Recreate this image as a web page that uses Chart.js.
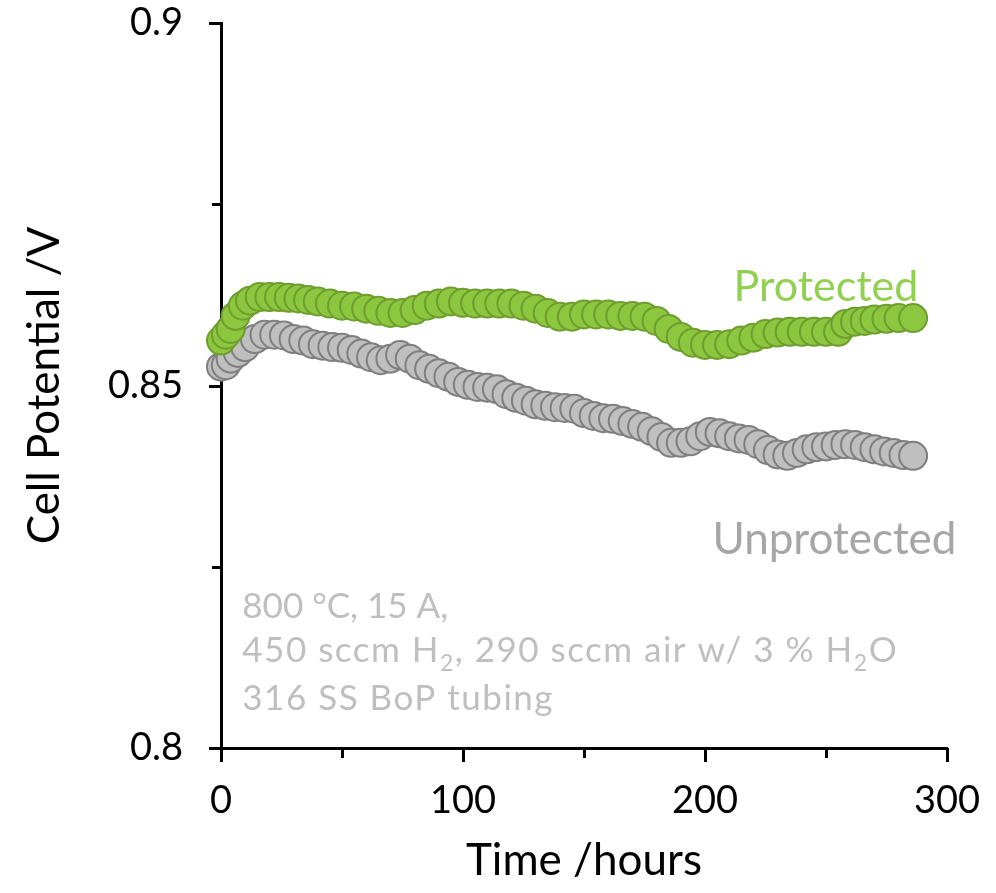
<!DOCTYPE html>
<html>
<head>
<meta charset="utf-8">
<script src="https://cdn.jsdelivr.net/npm/chart.js@4.4.1/dist/chart.umd.min.js"></script>
<style>
  html, body { margin: 0; padding: 0; background: #fff; }
  #wrap { width: 996px; height: 893px; }
</style>
</head>
<body>
<div id="wrap"><canvas id="grafica"></canvas></div>
<script>
// data
const protectedHours = [0, 2, 4, 6, 9, 12, 16, 20, 24, 28, 32, 36, 40, 45, 50, 55, 60, 65, 70, 75, 80, 85, 90, 95, 100, 105, 110, 115, 120, 125, 130, 135, 140, 145, 150, 155, 160, 165, 170, 175, 180, 185, 190, 195, 200, 205, 210, 215, 220, 225, 230, 235, 240, 245, 250, 255, 258, 262, 266, 270, 275, 280, 286];
const protectedVolts = [0.8562, 0.8570, 0.8578, 0.8596, 0.8610, 0.8617, 0.8622, 0.8622, 0.8622, 0.8621, 0.8620, 0.8618, 0.8616, 0.8613, 0.8610, 0.8609, 0.8606, 0.8603, 0.8600, 0.8600, 0.8604, 0.8610, 0.8613, 0.8616, 0.8614, 0.8613, 0.8613, 0.8613, 0.8613, 0.8610, 0.8606, 0.8600, 0.8595, 0.8595, 0.8598, 0.8598, 0.8598, 0.8596, 0.8596, 0.8595, 0.8589, 0.8578, 0.8567, 0.8559, 0.8556, 0.8556, 0.8557, 0.8562, 0.8566, 0.8571, 0.8573, 0.8574, 0.8574, 0.8574, 0.8574, 0.8574, 0.8585, 0.8588, 0.8589, 0.8591, 0.8592, 0.8593, 0.8593];

const unprotectedHours = [0, 2, 4, 7, 10, 14, 18, 22, 26, 30, 34, 38, 42, 46, 50, 54, 58, 62, 66, 70, 74, 78, 82, 86, 90, 94, 98, 102, 106, 110, 114, 118, 122, 126, 130, 134, 138, 142, 146, 150, 154, 158, 162, 166, 170, 174, 178, 182, 186, 190, 194, 198, 202, 206, 210, 214, 218, 222, 226, 230, 234, 238, 242, 246, 250, 254, 258, 262, 266, 270, 274, 278, 282, 286];
const unprotectedVolts = [0.8526, 0.8528, 0.8537, 0.8545, 0.8553, 0.8564, 0.8570, 0.8570, 0.8569, 0.8564, 0.8562, 0.8557, 0.8555, 0.8553, 0.8552, 0.8549, 0.8544, 0.8539, 0.8535, 0.8537, 0.8542, 0.8537, 0.8528, 0.8523, 0.8517, 0.8512, 0.8505, 0.8501, 0.8498, 0.8497, 0.8495, 0.8488, 0.8483, 0.8479, 0.8474, 0.8472, 0.8470, 0.8469, 0.8468, 0.8462, 0.8458, 0.8455, 0.8454, 0.8451, 0.8447, 0.8443, 0.8437, 0.8429, 0.8421, 0.8421, 0.8423, 0.8430, 0.8436, 0.8434, 0.8430, 0.8427, 0.8425, 0.8419, 0.8411, 0.8405, 0.8403, 0.8407, 0.8412, 0.8415, 0.8416, 0.8418, 0.8419, 0.8418, 0.8415, 0.8412, 0.8409, 0.8407, 0.8404, 0.8403];

const xMajorTicks = [0, 100, 200, 300];
const xMinorTicks = [50, 150, 250];
const yMajorTicks = [0.8, 0.85, 0.9];
const yMinorTicks = [0.825, 0.875];

const fuente = "Lato, 'Open Sans', sans-serif";

function puntos(xs, ys) {
    return xs.map((x, i) => ({ x: x, y: ys[i] }));
}

// outward tick marks, major and minor
const marcas = {
    id: 'marcas',
    beforeDatasetsDraw(chart) {
        const ctx = chart.ctx;
        const xs = chart.scales.x, ys = chart.scales.y;
        const area = chart.chartArea;
        ctx.save();
        ctx.strokeStyle = '#000';
        ctx.lineWidth = 3;
        ctx.beginPath();
        xMajorTicks.forEach(v => {
            const px = Math.round(xs.getPixelForValue(v)) + 0.5;
            ctx.moveTo(px, area.bottom); ctx.lineTo(px, area.bottom + 14);
        });
        xMinorTicks.forEach(v => {
            const px = Math.round(xs.getPixelForValue(v)) + 0.5;
            ctx.moveTo(px, area.bottom); ctx.lineTo(px, area.bottom + 10);
        });
        yMajorTicks.forEach(v => {
            const py = Math.round(ys.getPixelForValue(v)) + 0.5;
            ctx.moveTo(area.left, py); ctx.lineTo(area.left - 12, py);
        });
        yMinorTicks.forEach(v => {
            const py = Math.round(ys.getPixelForValue(v)) + 0.5;
            ctx.moveTo(area.left, py); ctx.lineTo(area.left - 9, py);
        });
        ctx.stroke();
        ctx.restore();
    }
};

// text with subscripts
function textoRico(ctx, partes, x, y, size, espacio) {
    let cx = x;
    ctx.letterSpacing = espacio + 'px';
    partes.forEach(p => {
        if (p.sub) {
            ctx.font = Math.round(size * 0.65) + 'px ' + fuente;
            ctx.fillText(p.t, cx, y + size * 0.24);
        } else {
            ctx.font = size + 'px ' + fuente;
            ctx.fillText(p.t, cx, y);
        }
        cx += ctx.measureText(p.t).width;
    });
    ctx.letterSpacing = '0px';
}

const etiquetas = {
    id: 'etiquetas',
    afterDraw(chart) {
        const ctx = chart.ctx;
        const xs = chart.scales.x, ys = chart.scales.y;
        ctx.save();
        ctx.textBaseline = 'alphabetic';

        ctx.textAlign = 'center';
        ctx.fillStyle = '#92D050';
        ctx.font = '43px ' + fuente;
        ctx.fillText('Protected', xs.getPixelForValue(250), ys.getPixelForValue(0.8616));

        ctx.fillStyle = '#A6A6A6';
        ctx.font = '44px ' + fuente;
        ctx.fillText('Unprotected', xs.getPixelForValue(253.5), ys.getPixelForValue(0.8267));

        ctx.textAlign = 'left';
        ctx.fillStyle = '#BFBFBF';
        const x0 = xs.getPixelForValue(8.8);
        textoRico(ctx, [{ t: '800 °C, 15 A,' }], x0, ys.getPixelForValue(0.8180), 35, 0);
        textoRico(ctx, [{ t: '450 sccm H' }, { t: '2', sub: true }, { t: ', 290 sccm air w/ 3 % H' }, { t: '2', sub: true }, { t: 'O' }], x0, ys.getPixelForValue(0.8118), 35, 1.5);
        textoRico(ctx, [{ t: '316 SS BoP tubing' }], x0, ys.getPixelForValue(0.8053), 35, 1.5);
        ctx.restore();
    }
};

const ctx = document.getElementById('grafica').getContext('2d');

const grafica = new Chart(ctx, {
    type: 'scatter',
    data: {
        datasets: [{
            label: 'Protected',
            data: puntos(protectedHours, protectedVolts),
            backgroundColor: '#8DC63F',
            borderColor: '#6E9E2E',
            borderWidth: 2,
            pointRadius: 14,
            clip: false
        }, {
            label: 'Unprotected',
            data: puntos(unprotectedHours, unprotectedVolts),
            backgroundColor: '#BFBFBF',
            borderColor: '#7F7F7F',
            borderWidth: 2,
            pointRadius: 14,
            clip: false
        }]
    },
    options: {
        responsive: true,
        maintainAspectRatio: false,
        animation: false,
        layout: {
            padding: { left: 0, right: 49, top: 23, bottom: 0 }
        },
        plugins: {
            legend: { display: false },
            tooltip: { enabled: false }
        },
        scales: {
            x: {
                type: 'linear',
                min: 0,
                max: 300,
                afterBuildTicks: s => { s.ticks = xMajorTicks.map(v => ({ value: v })); },
                afterFit: s => { s.height = 145; s.paddingLeft = 0; s.paddingRight = 0; },
                border: { display: true, color: '#000', width: 3 },
                grid: { display: true, drawOnChartArea: false, drawTicks: false },
                ticks: {
                    color: '#000',
                    padding: 30,
                    maxRotation: 0,
                    font: { family: fuente, size: 38 }
                },
                title: {
                    display: true,
                    text: 'Time /hours',
                    color: '#000',
                    font: { family: fuente, size: 44 },
                    padding: { top: 0, bottom: 6 }
                }
            },
            y: {
                type: 'linear',
                min: 0.8,
                max: 0.9,
                afterBuildTicks: s => { s.ticks = yMajorTicks.map(v => ({ value: v })); },
                afterFit: s => { s.width = 221; s.paddingTop = 0; s.paddingBottom = 0; },
                border: { display: true, color: '#000', width: 3 },
                grid: { display: true, drawOnChartArea: false, drawTicks: false },
                ticks: {
                    color: '#000',
                    padding: 38,
                    callback: v => String(Math.round(v * 100) / 100),
                    font: { family: fuente, size: 38 }
                },
                title: {
                    display: true,
                    text: 'Cell Potential /V',
                    color: '#000',
                    font: { family: fuente, size: 44 },
                    padding: { top: 18, bottom: 0 }
                }
            }
        }
    },
    plugins: [marcas, etiquetas]
});
</script>
</body>
</html>
